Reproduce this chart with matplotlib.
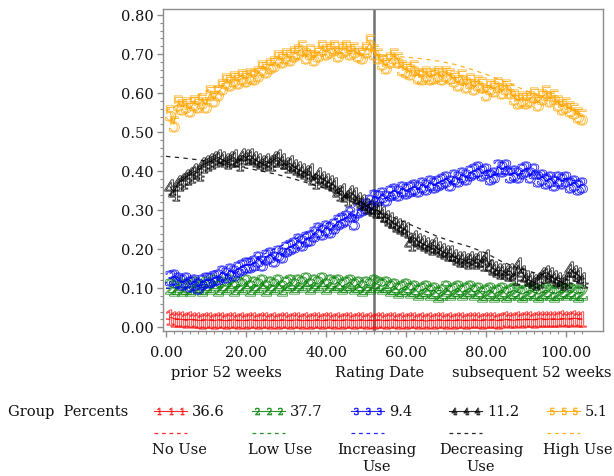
import matplotlib
matplotlib.use("Agg")
import matplotlib.pyplot as plt
from matplotlib.lines import Line2D

plt.rcParams['font.family'] = ['DejaVu Serif']
plt.rcParams['mathtext.fontset'] = 'dejavuserif'

# ---------------- data ----------------
weeks = list(range(1, 105))
pred_weeks = list(range(0, 105, 4))

no_use = [0.026, 0.022, 0.021, 0.020, 0.018, 0.020, 0.019, 0.018, 0.017, 0.019,
          0.018, 0.017, 0.019, 0.018, 0.017, 0.018, 0.019, 0.017, 0.018, 0.017,
          0.019, 0.018, 0.017, 0.018, 0.019, 0.017, 0.018, 0.017, 0.019, 0.018,
          0.017, 0.018, 0.019, 0.017, 0.018, 0.017, 0.018, 0.019, 0.017, 0.018,
          0.019, 0.017, 0.018, 0.017, 0.019, 0.018, 0.017, 0.018, 0.019, 0.017,
          0.018, 0.017, 0.019, 0.018, 0.017, 0.018, 0.019, 0.017, 0.018, 0.017,
          0.018, 0.019, 0.017, 0.018, 0.016, 0.018, 0.017, 0.019, 0.018, 0.017,
          0.018, 0.017, 0.019, 0.018, 0.017, 0.018, 0.019, 0.018, 0.017, 0.019,
          0.018, 0.019, 0.017, 0.018, 0.020, 0.019, 0.018, 0.020, 0.019, 0.021,
          0.020, 0.019, 0.021, 0.022, 0.020, 0.021, 0.022, 0.020, 0.023, 0.021,
          0.022, 0.023, 0.022, 0.021]

low_use = [0.105, 0.100, 0.110, 0.100, 0.105, 0.100, 0.110, 0.105, 0.100, 0.110,
           0.105, 0.115, 0.100, 0.110, 0.105, 0.115, 0.100, 0.110, 0.105, 0.115,
           0.100, 0.110, 0.105, 0.115, 0.100, 0.110, 0.105, 0.115, 0.100, 0.110,
           0.115, 0.105, 0.115, 0.110, 0.120, 0.105, 0.115, 0.110, 0.120, 0.105,
           0.115, 0.110, 0.115, 0.105, 0.110, 0.115, 0.105, 0.110, 0.100, 0.110,
           0.105, 0.115, 0.110, 0.105, 0.110, 0.100, 0.105, 0.095, 0.100, 0.105,
           0.095, 0.100, 0.090, 0.095, 0.100, 0.090, 0.095, 0.085, 0.090, 0.100,
           0.090, 0.095, 0.100, 0.090, 0.095, 0.100, 0.090, 0.095, 0.085, 0.090,
           0.095, 0.085, 0.090, 0.095, 0.085, 0.090, 0.095, 0.090, 0.085, 0.090,
           0.095, 0.090, 0.085, 0.090, 0.095, 0.090, 0.085, 0.090, 0.095, 0.090,
           0.095, 0.090, 0.085, 0.090]

increasing_use = [0.125, 0.130, 0.120, 0.115, 0.120, 0.110, 0.115, 0.105, 0.115, 0.120,
                  0.120, 0.125, 0.130, 0.140, 0.135, 0.145, 0.140, 0.150, 0.155, 0.160,
                  0.160, 0.165, 0.175, 0.165, 0.180, 0.185, 0.175, 0.190, 0.185, 0.200,
                  0.205, 0.210, 0.220, 0.215, 0.225, 0.230, 0.240, 0.250, 0.245, 0.255,
                  0.250, 0.260, 0.270, 0.275, 0.280, 0.290, 0.270, 0.300, 0.305, 0.310,
                  0.320, 0.335, 0.330, 0.340, 0.330, 0.345, 0.350, 0.345, 0.355, 0.350,
                  0.355, 0.360, 0.355, 0.365, 0.360, 0.370, 0.365, 0.370, 0.375, 0.380,
                  0.370, 0.385, 0.380, 0.390, 0.385, 0.395, 0.400, 0.405, 0.395, 0.400,
                  0.385, 0.390, 0.410, 0.405, 0.410, 0.390, 0.395, 0.390, 0.400, 0.405,
                  0.390, 0.400, 0.380, 0.385, 0.375, 0.380, 0.370, 0.380, 0.375, 0.380,
                  0.365, 0.370, 0.360, 0.365]

decreasing_use = [0.360, 0.345, 0.370, 0.375, 0.385, 0.390, 0.400, 0.395, 0.415, 0.420,
                  0.425, 0.430, 0.435, 0.430, 0.425, 0.430, 0.435, 0.420, 0.440, 0.435,
                  0.440, 0.430, 0.425, 0.420, 0.425, 0.420, 0.430, 0.435, 0.425, 0.415,
                  0.420, 0.410, 0.405, 0.400, 0.395, 0.400, 0.375, 0.390, 0.380, 0.375,
                  0.370, 0.365, 0.345, 0.350, 0.330, 0.345, 0.340, 0.325, 0.320, 0.310,
                  0.305, 0.300, 0.300, 0.290, 0.280, 0.275, 0.265, 0.260, 0.255, 0.250,
                  0.215, 0.230, 0.220, 0.215, 0.210, 0.205, 0.210, 0.200, 0.195, 0.190,
                  0.190, 0.180, 0.175, 0.175, 0.170, 0.175, 0.170, 0.175, 0.165, 0.180,
                  0.155, 0.150, 0.145, 0.145, 0.140, 0.145, 0.130, 0.160, 0.140, 0.125,
                  0.120, 0.115, 0.120, 0.135, 0.140, 0.135, 0.125, 0.120, 0.115, 0.120,
                  0.150, 0.140, 0.135, 0.120]

high_use = [0.550, 0.520, 0.575, 0.565, 0.570, 0.560, 0.575, 0.570, 0.580, 0.570,
            0.600, 0.585, 0.600, 0.615, 0.630, 0.625, 0.635, 0.630, 0.640, 0.635,
            0.645, 0.640, 0.650, 0.665, 0.660, 0.670, 0.675, 0.690, 0.685, 0.695,
            0.690, 0.700, 0.705, 0.715, 0.695, 0.705, 0.690, 0.700, 0.715, 0.705,
            0.710, 0.715, 0.700, 0.710, 0.715, 0.705, 0.710, 0.700, 0.695, 0.710,
            0.730, 0.705, 0.695, 0.680, 0.670, 0.685, 0.695, 0.685, 0.665, 0.660,
            0.655, 0.665, 0.645, 0.640, 0.650, 0.640, 0.645, 0.650, 0.640, 0.650,
            0.645, 0.635, 0.625, 0.640, 0.620, 0.630, 0.615, 0.625, 0.620, 0.600,
            0.615, 0.610, 0.620, 0.605, 0.615, 0.605, 0.590, 0.580, 0.585, 0.580,
            0.585, 0.595, 0.575, 0.590, 0.600, 0.585, 0.590, 0.575, 0.565, 0.570,
            0.560, 0.555, 0.545, 0.540]

pred_no_use = [0.021, 0.020, 0.019, 0.019, 0.018, 0.018, 0.018, 0.018, 0.018, 0.018,
               0.018, 0.018, 0.018, 0.018, 0.018, 0.018, 0.018, 0.018, 0.018, 0.018,
               0.019, 0.019, 0.019, 0.020, 0.020, 0.021, 0.021]
pred_low_use = [0.100, 0.101, 0.102, 0.103, 0.104, 0.105, 0.106, 0.106, 0.106, 0.106,
                0.105, 0.104, 0.103, 0.101, 0.099, 0.097, 0.095, 0.094, 0.093, 0.092,
                0.091, 0.090, 0.090, 0.089, 0.089, 0.089, 0.089]
pred_increasing = [0.100, 0.100, 0.105, 0.118, 0.138, 0.163, 0.185, 0.205, 0.225, 0.245,
                   0.265, 0.285, 0.303, 0.320, 0.335, 0.347, 0.357, 0.366, 0.375, 0.383,
                   0.389, 0.393, 0.394, 0.392, 0.387, 0.380, 0.372]
pred_decreasing = [0.438, 0.434, 0.429, 0.423, 0.416, 0.408, 0.400, 0.391, 0.380, 0.368,
                   0.355, 0.340, 0.322, 0.302, 0.285, 0.268, 0.250, 0.232, 0.218, 0.206,
                   0.190, 0.168, 0.152, 0.140, 0.130, 0.122, 0.115]
pred_high_use = [0.555, 0.575, 0.595, 0.615, 0.632, 0.648, 0.663, 0.676, 0.687, 0.695,
                 0.700, 0.702, 0.701, 0.699, 0.695, 0.692, 0.688, 0.682, 0.674, 0.662,
                 0.648, 0.632, 0.615, 0.598, 0.582, 0.565, 0.548]

group_names = ["No Use", "Low Use", "Increasing\nUse", "Decreasing\nUse", "High Use"]
group_percents = ["36.6", "37.7", "9.4", "11.2", "5.1"]
group_symbols = ["1", "2", "3", "4", "5"]
group_colors = ["#ff0000", "#008000", "#0000ff", "#000000", "#ffa500"]
observed = [no_use, low_use, increasing_use, decreasing_use, high_use]
predicted = [pred_no_use, pred_low_use, pred_increasing, pred_decreasing, pred_high_use]

x_ticks = [0, 20, 40, 60, 80, 100]
y_ticks = [0.0, 0.1, 0.2, 0.3, 0.4, 0.5, 0.6, 0.7, 0.8]
rating_week = 52

# ---------------- figure ----------------
W, H = 614, 476
fig = plt.figure(figsize=(W / 100, H / 100), dpi=100)


def px(x, y):
    return x / W, 1 - y / H


ax_l, ax_r, ax_t, ax_b = 163, 603, 9, 331
ax = fig.add_axes([ax_l / W, 1 - ax_b / H, (ax_r - ax_l) / W, (ax_b - ax_t) / H])
ax.set_xlim(-0.75, 109.25)
ax.set_ylim(-0.0095, 0.8154)

frame_col = "#8c8c8c"
for s in ax.spines.values():
    s.set_color(frame_col)
    s.set_linewidth(1.0)

ax.axvline(rating_week, color="#707070", lw=1.8, zorder=1)

for obs, pred, sym, col in zip(observed, predicted, group_symbols, group_colors):
    ax.plot(pred_weeks, pred, ls=(0, (3.5, 3.5)), color=col, lw=0.9, alpha=0.85, zorder=2)
    ax.plot(weeks, obs, ls="-", color=col, lw=0.8, alpha=0.85,
            marker=f"${sym}$", markersize=11, mfc="none", mec=col, mew=0.6, zorder=3)

ax.set_xticks(x_ticks)
ax.set_xticklabels([f"{v:.2f}" for v in x_ticks])
ax.set_yticks(y_ticks)
ax.set_yticklabels([f"{v:.2f}" for v in y_ticks])
ax.set_xticks([v for v in range(0, 106, 2) if v % 20 != 0], minor=True)
ax.set_yticks([i * 0.02 for i in range(0, 41) if i % 5 != 0], minor=True)
ax.tick_params(axis="both", which="major", direction="out", length=4, width=1,
               color=frame_col, labelsize=10.5, labelcolor="#111111")
ax.tick_params(axis="x", which="major", pad=7)
ax.tick_params(axis="y", which="major", pad=3)
ax.tick_params(axis="both", which="minor", direction="out", length=2.5, width=0.8,
               color=frame_col)

txt_col = "#111111"
fs = 10.5
fig.text(*px(226, 373), "prior 52 weeks", ha="center", va="center", fontsize=fs, color=txt_col)
fig.text(*px(380, 373), "Rating Date", ha="center", va="center", fontsize=fs, color=txt_col)
fig.text(*px(612, 373), "subsequent 52 weeks", ha="right", va="center", fontsize=fs, color=txt_col)

# ---------------- legend ----------------
fig.text(*px(8, 412), "Group  Percents", ha="left", va="center", fontsize=fs, color=txt_col)
line_x0 = [154, 252, 351, 449, 547]
line_len = 33
label_cx = [179, 280, 377, 481, 578]
for i in range(5):
    x0 = line_x0[i]
    x1 = x0 + line_len
    col = group_colors[i]
    fx0, fy = px(x0, 411)
    fx1, _ = px(x1, 411)
    fig.add_artist(Line2D([fx0, fx1], [fy, fy], transform=fig.transFigure,
                          color=col, lw=0.8, alpha=0.85))
    for k in range(3):
        mx, _ = px(x0 + 5 + k * 11.5, 411)
        fig.add_artist(Line2D([mx], [fy], transform=fig.transFigure, ls="none",
                              marker=f"${group_symbols[i]}$", markersize=5,
                              mfc="none", mec=col, mew=0.5, alpha=0.85))
    fig.text(*px(x1 + 5, 412), group_percents[i], ha="left", va="center",
             fontsize=fs, color=txt_col)
    fdx0, fdy = px(x0, 433)
    fdx1, _ = px(x1, 433)
    fig.add_artist(Line2D([fdx0, fdx1], [fdy, fdy], transform=fig.transFigure,
                          color=col, lw=0.9, ls=(0, (3, 3)), alpha=0.85))
    fig.text(*px(label_cx[i], 443), group_names[i], ha="center", va="top",
             fontsize=fs, color=txt_col, linespacing=1.25)

fig.savefig("out.png", dpi=100)
